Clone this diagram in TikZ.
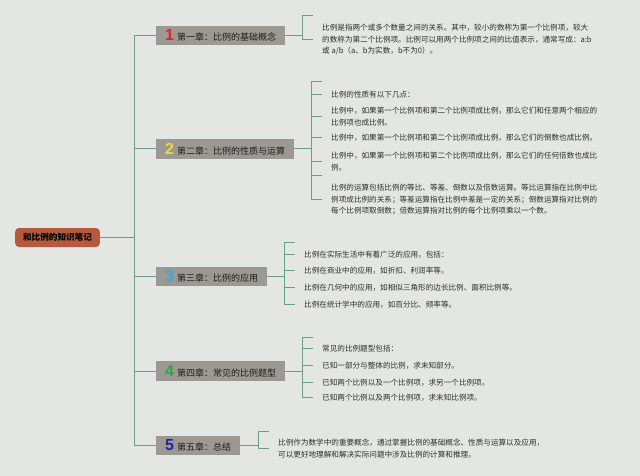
\documentclass[tikz,border=0pt]{standalone}
\usepackage{fontspec}
\setmainfont{Noto Sans CJK SC}
\newfontfamily\numfont{Liberation Sans}
\usepackage{xcolor}
\usepackage{tikz}
\definecolor{bg}{HTML}{E4E6E3}
\definecolor{boxbg}{HTML}{9C9892}
\definecolor{rootbg}{HTML}{B55A3D}
\definecolor{link}{HTML}{6A9E8B}
\definecolor{ink}{HTML}{2E2E2E}
\definecolor{inkd}{HTML}{1E1E1E}
\definecolor{nored}{HTML}{E3222C}
\definecolor{noyellow}{HTML}{F4D443}
\definecolor{noblue}{HTML}{3FA6E2}
\definecolor{nogreen}{HTML}{2FA647}
\definecolor{nonavy}{HTML}{1F2A9A}
\newcommand{\chno}[2]{{\color{#1}\numfont\bfseries\fontsize{16}{16}\selectfont #2}\hspace{3pt}}
\tikzset{
  link/.style={draw=link, line width=1pt},
  rootbox/.style={fill=rootbg, rounded corners=4pt, text=black, inner xsep=8pt, minimum height=19pt, font=\fontsize{8.6}{10}\selectfont\bfseries},
  chap/.style={anchor=west, fill=boxbg, text=inkd, inner xsep=9pt, inner ysep=1pt, minimum height=19.5pt, font=\fontsize{9}{10}\selectfont},
  item/.style={anchor=west, align=left, inner xsep=9pt, inner ysep=1pt, text=ink, font=\fontsize{7.6}{11.8}\selectfont},
}
\begin{document}
\begin{tikzpicture}[x=1pt,y=-1pt]
  \fill[bg] (0,0) rectangle (640,476);
  \useasboundingbox (0,0) rectangle (640,476);
  \node[rootbox] (root) at (57.5,237.5) {和比例的知识笔记};
  \coordinate (trunk) at (134.5,237.5);
  \node[chap] (ch1) at (156,35.5) {\chno{nored}{1}第一章：比例的基础概念};
  \node[chap] (ch2) at (156,149) {\chno{noyellow}{2}第二章：比例的性质与运算};
  \node[chap] (ch3) at (156,276.5) {\chno{noblue}{3}第三章：比例的应用};
  \node[chap] (ch4) at (156,371) {\chno{nogreen}{4}第四章：常见的比例题型};
  \node[chap] (ch5) at (156,445.5) {\chno{nonavy}{5}第五章：总结};
  \draw[link] (root.east) -- (trunk);
  \foreach \c in {1,...,5}{
    \draw[link] (trunk) |- (ch\c.west);
  }
  \coordinate (j1) at (302,35.5);
  \coordinate (ch1e) at (313,16);
  \node[item] (ch1a) at (313,39.5) {比例是指两个或多个数量之间的关系。其中，较小的数称为第一个比例项，较大\\的数称为第二个比例项。比例可以用两个比例项之间的比值表示，通常写成：a:b\\或 a/b（a、b为实数，b不为0）。};
  \draw[link] (ch1.east) -- (j1);
  \draw[link] (j1) |- (ch1e);
  \draw[link] (j1) |- (ch1a.west);
  \coordinate (j2) at (311,149);
  \coordinate (ch2e) at (322,82);
  \coordinate (ch2f) at (322,176);
  \node[item] (ch2a) at (322,94.5) {比例的性质有以下几点：};
  \node[item] (ch2b) at (322,116.5) {比例中，如果第一个比例项和第二个比例项成比例，那么它们和任意两个相应的\\比例项也成比例。};
  \node[item] (ch2c) at (322,137.5) {比例中，如果第一个比例项和第二个比例项成比例，那么它们的倒数也成比例。};
  \node[item] (ch2d) at (322,161.5) {比例中，如果第一个比例项和第二个比例项成比例，那么它们的任何倍数也成比\\例。};
  \node[item] (ch2g) at (322,199.5) {比例的运算包括比例的等比、等差、倒数以及倍数运算。等比运算指在比例中比\\例项成比例的关系；等差运算指在比例中差是一定的关系；倒数运算指对比例的\\每个比例项取倒数；倍数运算指对比例的每个比例项乘以一个数。};
  \draw[link] (ch2.east) -- (j2);
  \foreach \n in {ch2e,ch2f}{
    \draw[link] (j2) |- (\n);
  }
  \foreach \n in {ch2a,ch2b,ch2c,ch2d,ch2g}{
    \draw[link] (j2) |- (\n.west);
  }
  \coordinate (j3) at (284,276.5);
  \coordinate (ch3e) at (295,242);
  \foreach \y/\t [count=\i] in {254.5/比例在实际生活中有着广泛的应用，包括：,270.5/比例在商业中的应用，如折扣、利润率等。,287.5/比例在几何中的应用，如相似三角形的边长比例、面积比例等。,304.5/比例在统计学中的应用，如百分比、频率等。}{
    \node[item] (ch3t\i) at (295,\y) {\t};
    \draw[link] (j3) |- (ch3t\i.west);
  }
  \draw[link] (ch3.east) -- (j3);
  \draw[link] (j3) |- (ch3e);
  \coordinate (j4) at (302,371);
  \coordinate (ch4e) at (313,337);
  \foreach \y/\t [count=\i] in {348.5/常见的比例题型包括：,365.5/已知一部分与整体的比例，求未知部分。,382.5/已知两个比例以及一个比例项，求另一个比例项。,397.5/已知两个比例以及两个比例项，求未知比例项。}{
    \node[item] (ch4t\i) at (313,\y) {\t};
    \draw[link] (j4) |- (ch4t\i.west);
  }
  \draw[link] (ch4.east) -- (j4);
  \draw[link] (j4) |- (ch4e);
  \coordinate (j5) at (258,445.5);
  \coordinate (ch5e) at (269,431);
  \node[item] (ch5a) at (269,448.5) {比例作为数学中的重要概念，通过掌握比例的基础概念、性质与运算以及应用，\\可以更好地理解和解决实际问题中涉及比例的计算和推理。};
  \draw[link] (ch5.east) -- (j5);
  \draw[link] (j5) |- (ch5e);
  \draw[link] (j5) |- (ch5a.west);
\end{tikzpicture}
\end{document}
